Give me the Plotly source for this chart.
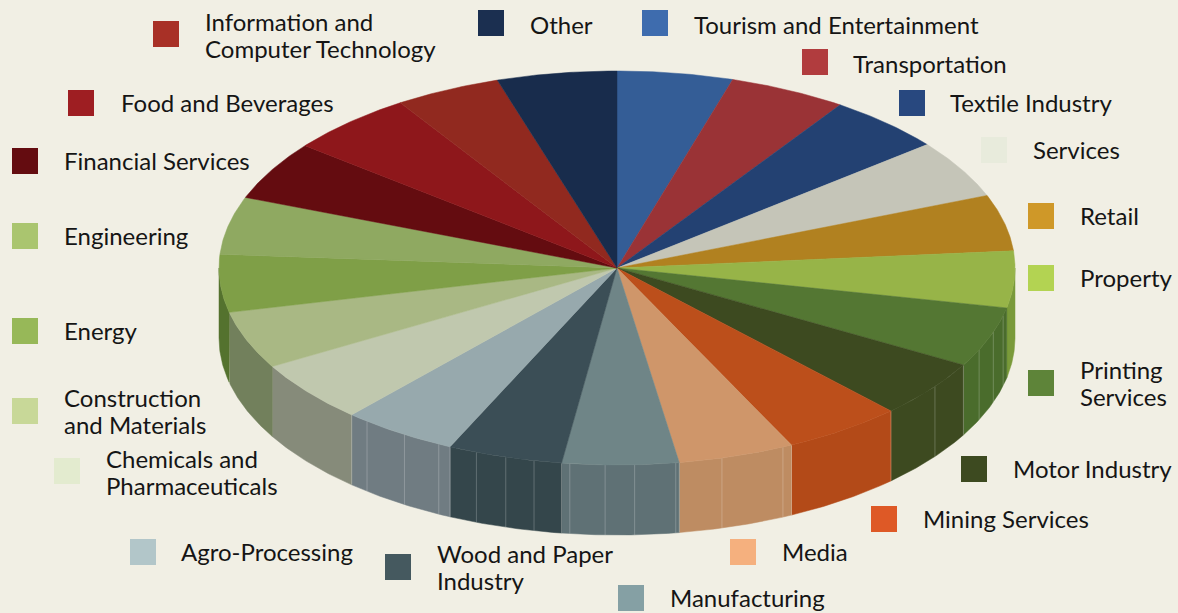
import numpy as np
import plotly.graph_objects as go

categories = ["Tourism and Entertainment", "Transportation", "Textile Industry", "Services", "Retail",
              "Property", "Printing<br>Services", "Motor Industry", "Mining Services", "Media",
              "Manufacturing", "Wood and Paper<br>Industry", "Agro-Processing",
              "Chemicals and<br>Pharmaceuticals", "Construction<br>and Materials", "Energy",
              "Engineering", "Financial Services", "Food and Beverages",
              "Information and<br>Computer Technology", "Other"]
values = [16.9, 17.2, 17.1, 17.2, 16.6, 16.7, 17.8, 17.0, 17.5, 17.0, 17.0, 16.8, 17.0, 18.2, 17.0,
          17.0, 17.0, 17.4, 18.6, 15.5, 17.5]
top_colors = ["#345D96", "#9A3336", "#234172", "#C5C5B8", "#B18120", "#97B448", "#547733", "#3D4A20",
              "#BC4F1B", "#CF966A", "#6F8587", "#3B4E56", "#97A9AD", "#C0C8AE", "#A9B884", "#7F9F47",
              "#8FA961", "#640C10", "#8E171B", "#91291F", "#182C4C"]
wall_colors = ["#345D96", "#9A3336", "#234172", "#C5C5B8", "#B18120", "#7A9A3A", "#4A6C2C", "#3D4A20",
               "#B34A18", "#BE8C62", "#5F7175", "#34464B", "#707C82", "#868B7A", "#72805C", "#54722E",
               "#8FA961", "#640C10", "#8E171B", "#91291F", "#182C4C"]
legend_colors = ["#3E6CAE", "#B13C3E", "#28487F", "#E8EBDC", "#CF9828", "#B3D352", "#5E8439", "#3D4A20",
                 "#DE5926", "#F5B07E", "#85A0A4", "#45595F", "#B2C6C9", "#E3EBCF", "#C8D898", "#97B858",
                 "#AAC56F", "#640C10", "#9E1E22", "#A83026", "#1B2F50"]
facets = {6: [0.13, 0.41, 0.72], 7: [0.44], 9: [0.08, 0.63], 10: [0.03, 0.38, 0.63, 0.93],
          11: [0.24, 0.49, 0.755], 12: [0.106, 0.44, 0.83]}
swatch_x = [655, 815, 912, 994, 1041, 1041, 1041, 974, 884, 743, 631, 398, 143, 67, 25, 25, 25, 25, 81, 166, 491]
swatch_y = [23, 62, 103, 150, 216, 278, 383, 469, 519, 552, 598, 567, 552, 471, 411, 331, 236, 161, 103, 34, 23]
label_x = [694, 853, 950, 1033, 1080, 1080, 1080, 1013, 923, 782, 670, 437, 181, 106, 64, 64, 64, 64, 121, 205, 530]
label_y = [24.5, 63.5, 102.5, 149.5, 215.5, 277.5, 382.5, 468.5, 518.5, 551.5, 597.5, 566.5, 551.5, 471.5, 410.5, 330.5, 235.5, 160.5, 102.5, 34.5, 24.5]

CX, CY, RX, RY, DEPTH = 617, 268, 398, 197, 70
BG = "#F1EFE4"
FONT = "Lato"
SIZE = 24
LINE = 27


def rim(deg):
    t = np.radians(deg)
    return CX + RX * np.sin(t), CY - RY * np.cos(t)


edges = np.concatenate([[0], np.cumsum(values)]) * 360 / sum(values)
fig = go.Figure()

# side walls (front half only)
for i in range(len(values)):
    a, b = max(edges[i], 90), min(edges[i + 1], 270)
    if a >= b:
        continue
    x, y = rim(np.linspace(a, b, 40))
    fig.add_trace(go.Scatter(x=np.r_[x, x[::-1], x[0]], y=np.r_[y, y[::-1] + DEPTH, y[0]], mode="lines",
                             fill="toself", fillcolor=wall_colors[i], line=dict(color=wall_colors[i], width=0.5),
                             hoverinfo="skip", showlegend=False))
    for f in facets.get(i, []):
        fx, fy = rim(edges[i] + f * (edges[i + 1] - edges[i]))
        fig.add_trace(go.Scatter(x=[fx, fx], y=[fy, fy + DEPTH], mode="lines",
                                 line=dict(color="rgba(255,255,255,0.22)", width=1),
                                 hoverinfo="skip", showlegend=False))

# wall separators
for i in range(7, 14):
    fx, fy = rim(edges[i])
    fig.add_trace(go.Scatter(x=[fx, fx], y=[fy, fy + DEPTH], mode="lines",
                             line=dict(color="rgba(255,255,255,0.25)", width=1),
                             hoverinfo="skip", showlegend=False))

# top face
for i, name in enumerate(categories):
    x, y = rim(np.linspace(edges[i], edges[i + 1], 40))
    fig.add_trace(go.Scatter(x=np.r_[CX, x, CX], y=np.r_[CY, y, CY], mode="lines", fill="toself",
                             fillcolor=top_colors[i], line=dict(color=top_colors[i], width=0.5),
                             name=name.replace("<br>", " "), showlegend=False))

# legend swatches and labels
fig.add_trace(go.Scatter(x=swatch_x, y=swatch_y, mode="markers",
                         marker=dict(symbol="square", size=26, color=legend_colors, line=dict(width=0)),
                         hoverinfo="skip", showlegend=False))
for name, lx, ly in zip(categories, label_x, label_y):
    lines = name.split("<br>")
    for k, part in enumerate(lines):
        fig.add_annotation(x=lx, y=ly + (k - (len(lines) - 1) / 2) * LINE, text=part, showarrow=False,
                           xanchor="left", yanchor="middle", align="left", xref="x", yref="y",
                           font=dict(family=FONT, size=SIZE, color="#151515"), borderpad=0, borderwidth=0)

fig.update_layout(width=1178, height=613, margin=dict(l=0, r=0, t=0, b=0), paper_bgcolor=BG, plot_bgcolor=BG,
                  showlegend=False,
                  xaxis=dict(range=[0, 1178], visible=False, fixedrange=True),
                  yaxis=dict(range=[613, 0], visible=False, fixedrange=True))
fig.write_html("out.html", config={"displayModeBar": False},
               post_script="document.body.style.margin='0';document.body.style.overflow='hidden';"
                           "document.body.style.background='" + BG + "';")
